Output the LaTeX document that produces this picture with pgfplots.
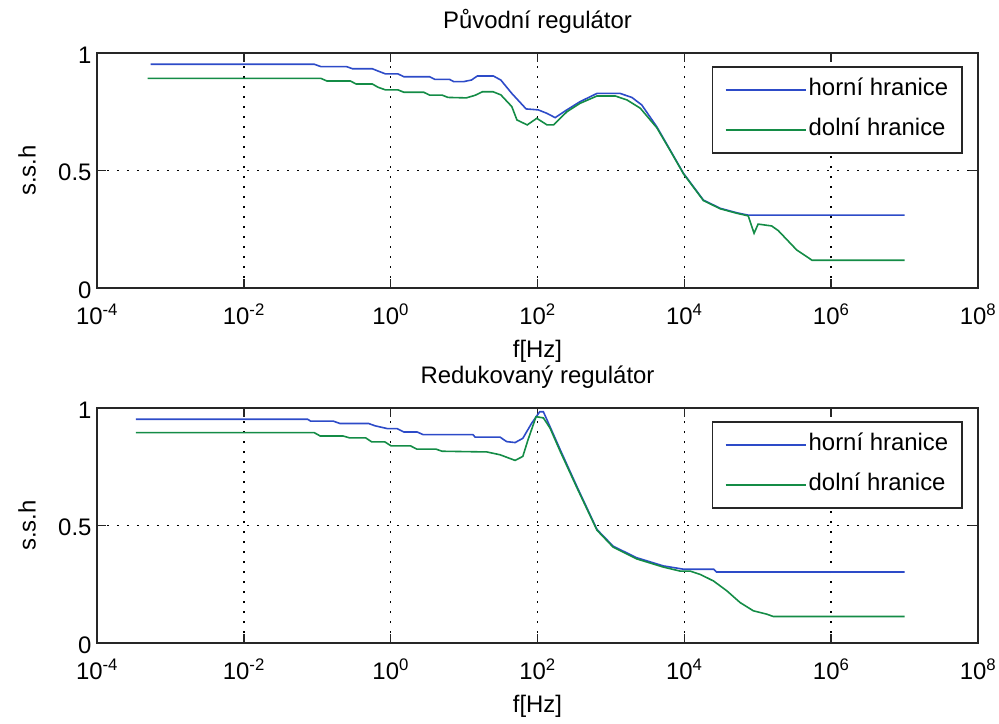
\documentclass[border=0pt]{standalone}
\usepackage{pgfplots}
\pgfplotsset{compat=1.18}
\usepackage{fontspec}
\setmainfont{Liberation Sans}

\definecolor{mblue}{RGB}{45,75,200}
\definecolor{mgreen}{RGB}{20,140,70}

% x values are log10(f)
\pgfplotsset{
  mlab/.style={
    scale only axis, width=881bp, height=235bp,
    xmin=-4, xmax=8, ymin=0, ymax=1,
    xtick={-4,-2,0,2,4,6,8},
    xticklabels={10\textsuperscript{-4},10\textsuperscript{-2},10\textsuperscript{0},10\textsuperscript{2},10\textsuperscript{4},10\textsuperscript{6},10\textsuperscript{8}},
    ytick={0,0.5,1}, yticklabels={0,0.5,1},
    tick align=inside, major tick length=9bp,
    xtick pos=both, ytick pos=both,
    grid=major,
    major grid style={black, line width=1.6bp, dash pattern=on 1.6bp off 8.4bp},
    axis line style={black!85, line width=1.6bp},
    every tick/.style={black!85, line width=1.6bp},
    font=\fontsize{24}{28}\selectfont,
    ticklabel style={font=\fontsize{24}{28}\selectfont},
    xticklabel style={yshift=-12bp},
    yticklabel style={xshift=-2bp, yshift=-2bp},
    title style={at={(axis description cs:0.5,1.08)}, anchor=base, inner sep=0pt},
    xlabel style={at={(axis description cs:0.5,-0.297)}, anchor=base, inner sep=0pt},
    ylabel style={at={(axis description cs:-0.0795,0.5)}, anchor=center},
    xlabel={f[Hz]}, ylabel={s.s.h},
    legend style={at={(axis description cs:0.983,0.945)}, anchor=north east,
      draw=black!85, line width=1.6bp, inner xsep=12bp, inner ysep=10bp,
      row sep=14bp, font=\fontsize{24}{28}\selectfont,
      nodes={inner sep=2bp, text height=17bp, text depth=5bp}},
    legend cell align=left,
    legend image code/.code={\draw[#1, line width=2bp] (0bp,0bp) -- (80bp,0bp);},
    every axis plot/.append style={line width=1.6bp},
  }
}

\begin{document}
\begin{tikzpicture}
\path[use as bounding box] (-97bp,53bp) rectangle (902bp,-671bp);

\begin{axis}[mlab, at={(0,0)}, anchor=north west, title={Původní regulátor}]
\addplot[mblue] coordinates {
(-3.27,0.952) (-1.04,0.952) (-0.95,0.942) (-0.60,0.942) (-0.52,0.933) (-0.25,0.933)
(-0.17,0.923) (-0.07,0.911) (0.10,0.911) (0.18,0.899) (0.53,0.899) (0.60,0.888)
(0.80,0.888) (0.86,0.878) (0.99,0.878) (1.10,0.885) (1.18,0.902) (1.40,0.902)
(1.50,0.885) (1.65,0.828) (1.845,0.762) (2.01,0.758) (2.13,0.743) (2.24,0.725)
(2.40,0.758) (2.58,0.793) (2.81,0.828) (3.125,0.828) (3.285,0.811) (3.42,0.779)
(3.625,0.686) (3.807,0.587) (3.988,0.488) (4.26,0.374) (4.49,0.339) (4.715,0.320)
(4.87,0.310) (7.00,0.310)};
\addlegendentry{horní hranice}
\addplot[mgreen] coordinates {
(-3.31,0.892) (-0.95,0.892) (-0.87,0.881) (-0.55,0.881) (-0.47,0.868) (-0.25,0.868)
(-0.17,0.854) (-0.07,0.843) (0.10,0.843) (0.18,0.833) (0.45,0.833) (0.53,0.821)
(0.70,0.821) (0.78,0.811) (1.03,0.809) (1.15,0.820) (1.25,0.835) (1.395,0.835)
(1.50,0.822) (1.65,0.772) (1.72,0.715) (1.86,0.694) (1.99,0.722) (2.13,0.694)
(2.22,0.694) (2.40,0.750) (2.58,0.786) (2.81,0.817) (3.06,0.817) (3.22,0.800)
(3.40,0.765) (3.625,0.682) (3.807,0.585) (3.988,0.486) (4.26,0.372) (4.49,0.337)
(4.715,0.318) (4.87,0.307) (4.95,0.233) (5.005,0.272) (5.19,0.264) (5.28,0.244)
(5.53,0.162) (5.74,0.118) (7.00,0.118)};
\addlegendentry{dolní hranice}
\end{axis}

\begin{axis}[mlab, at={(0,-355bp)}, anchor=north west, title={Redukovaný regulátor}]
\addplot[mblue] coordinates {
(-3.47,0.952) (-1.13,0.952) (-1.09,0.944) (-0.78,0.944) (-0.69,0.934) (-0.30,0.934)
(-0.21,0.924) (-0.04,0.912) (0.09,0.912) (0.18,0.898) (0.36,0.898) (0.44,0.887)
(1.12,0.887) (1.15,0.876) (1.49,0.876) (1.58,0.857) (1.695,0.853) (1.80,0.871)
(1.92,0.935) (2.03,0.984) (2.08,0.984) (2.17,0.921) (2.31,0.822) (2.535,0.667)
(2.81,0.483) (3.03,0.412) (3.35,0.363) (3.715,0.328) (3.99,0.314) (4.40,0.314)
(4.44,0.302) (7.00,0.302)};
\addlegendentry{horní hranice}
\addplot[mgreen] coordinates {
(-3.47,0.895) (-1.04,0.895) (-0.96,0.881) (-0.65,0.881) (-0.56,0.873) (-0.34,0.873)
(-0.26,0.856) (-0.08,0.856) (0.005,0.839) (0.27,0.839) (0.356,0.825) (0.617,0.825)
(0.70,0.816) (1.31,0.813) (1.49,0.801) (1.695,0.777) (1.80,0.794) (1.87,0.864)
(1.98,0.963) (2.08,0.958) (2.17,0.915) (2.31,0.815) (2.535,0.662) (2.81,0.480)
(3.03,0.408) (3.35,0.358) (3.715,0.323) (3.943,0.306) (4.079,0.306) (4.215,0.292)
(4.397,0.264) (4.579,0.222) (4.76,0.172) (4.94,0.137) (5.12,0.123) (5.21,0.113)
(7.00,0.113)};
\addlegendentry{dolní hranice}
\end{axis}
\end{tikzpicture}
\end{document}
